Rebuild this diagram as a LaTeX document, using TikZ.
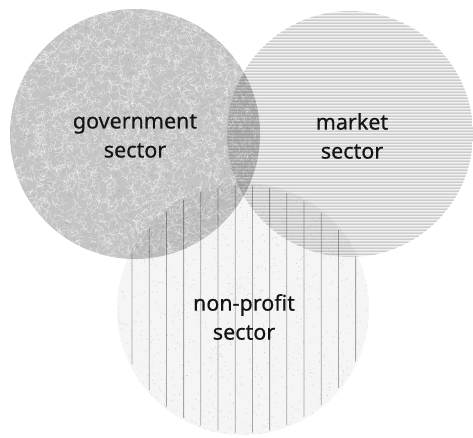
\documentclass[tikz,border=0pt]{standalone}
\usepackage{fontspec}
\setmainfont[FakeBold=0.5]{Noto Sans}
\tikzset{
  label/.style={font=\fontsize{21.5}{29}\selectfont, align=center, text=black!92},
  hline/.style={gray!48, line width=1.0pt},
  vline/.style={gray!65, line width=0.8pt},
}
\begin{document}
\begin{tikzpicture}[x=1pt,y=-1pt]
\useasboundingbox (0,0) rectangle (473,437);
\coordinate (G) at (135,134);
\coordinate (M) at (350,134);
\coordinate (N) at (243,309);
\pgfmathsetseed{7}
\begin{scope}[blend group=multiply]
  % market sector
  \begin{scope}
    \clip (M) circle (123pt);
    \fill[gray!10] (227,10) rectangle (473,258);
    \foreach \y in {11,14,...,257} \draw[hline] (225,\y) -- (475,\y);
  \end{scope}
  % non-profit sector
  \begin{scope}
    \clip (N) circle (126pt);
    \fill[gray!8] (117,183) rectangle (370,436);
    \foreach \i in {1,...,1200}{
      \pgfmathsetmacro\xa{117+253*rnd}
      \pgfmathsetmacro\ya{183+253*rnd}
      \fill[gray!28] (\xa,\ya) circle (0.5pt);
    }
  \end{scope}
  \begin{scope}
    \clip (N) circle (124pt);
    \foreach \k in {0,...,13} \draw[vline] (132+17.2*\k,180) -- (132+17.2*\k,440);
  \end{scope}
  % government sector (own group, composited with multiply)
  \begin{scope}[transparency group]
    \clip (G) circle (125pt);
    \fill[gray!46] (10,9) rectangle (260,259);
    \foreach \i in {1,...,3800}{
      \pgfmathsetmacro\xa{10+250*rnd}
      \pgfmathsetmacro\ya{9+250*rnd}
      \pgfmathsetmacro\an{360*rnd}
      \pgfmathsetmacro\bn{\an+140*rnd-70}
      \draw[white, opacity=.45, line width=.5pt, line join=round] (\xa,\ya) -- ++(\an:3pt) -- ++(\bn:2.5pt) -- ++(\bn+60:2pt);
    }
    \foreach \i in {1,...,600}{
      \pgfmathsetmacro\xa{10+250*rnd}
      \pgfmathsetmacro\ya{9+250*rnd}
      \pgfmathsetmacro\an{360*rnd}
      \draw[gray!75, opacity=.45, line width=.5pt] (\xa,\ya) -- ++(\an:3pt);
    }
  \end{scope}
\end{scope}
\node[label] (gov) at (135,136) {government\\sector};
\node[label] (mkt) at (352,136) {market\\sector};
\node[label] (npo) at (244,317) {non-profit\\sector};
\end{tikzpicture}
\end{document}
